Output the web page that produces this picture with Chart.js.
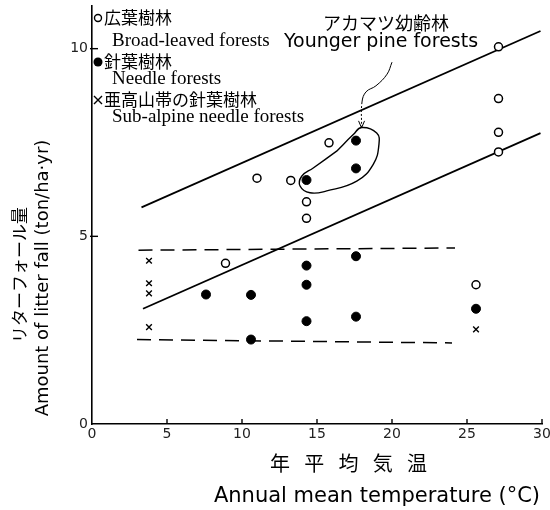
<!DOCTYPE html>
<html>
<head>
<meta charset="utf-8">
<script src="https://cdn.jsdelivr.net/npm/chart.js@4.4.1/dist/chart.umd.min.js"></script>
<style>
  html, body { margin: 0; padding: 0; background: #fff; }
  #wrap { width: 550px; height: 510px; position: relative; }
</style>
</head>
<body>
<div id="wrap"><canvas id="c"></canvas></div>
<script>
// Broad-leaved forests (open circles): annual mean temperature (°C) vs litter fall (ton/ha·yr)
const broadLeavedTemp = [8.9, 11.0, 13.25, 14.3, 14.3, 15.8, 25.6, 27.1, 27.1, 27.1, 27.1];
const broadLeavedFall = [4.28, 6.55, 6.49, 5.92, 5.48, 7.49, 3.71, 10.05, 8.67, 7.77, 7.25];

// Needle forests (filled circles)
const needleTemp = [7.6, 10.6, 10.6, 14.3, 14.3, 14.3, 14.3, 17.6, 17.6, 17.6, 17.6, 25.6];
const needleFall = [3.45, 3.44, 2.25, 6.5, 4.22, 3.71, 2.74, 7.55, 6.81, 4.47, 2.86, 3.07];

// Sub-alpine needle forests (crosses)
const subAlpineTemp = [3.8, 3.8, 3.8, 3.8, 25.6];
const subAlpineFall = [4.35, 3.75, 3.48, 2.58, 2.52];

// Solid envelope lines
const upperBoundTemp = [3.3, 29.9];
const upperBoundFall = [5.77, 10.47];
const lowerBoundTemp = [3.4, 29.9];
const lowerBoundFall = [3.07, 7.75];

// Dashed band for needle forests
const bandTopTemp = [3.1, 24.2];
const bandTopFall = [4.63, 4.69];
const bandBottomTemp = [3.0, 24.0];
const bandBottomFall = [2.25, 2.16];

// Loop enclosing the younger pine forest stands
const loopTemp = [16.31, 17.42, 17.98, 18.98, 19.13, 18.75, 17.65, 15.65, 14.53, 13.87, 13.98, 14.75, 16.31];
const loopFall = [7.27, 7.71, 7.90, 7.75, 7.45, 6.92, 6.47, 6.21, 6.16, 6.34, 6.60, 6.82, 7.27];

// Pointer from the label down to the loop
const pointerTemp = [20.0, 19.67, 18.93, 18.27, 18.0, 17.97];
const pointerFall = [9.64, 9.32, 9.01, 8.85, 8.58, 7.89];

// Axis ticks
const xTicks = [0, 5, 10, 15, 20, 25, 30];
const yTicks = [0, 5, 10];

const zip = (xs, ys) => xs.map((x, i) => ({ x: x, y: ys[i] }));

const lineSet = (xs, ys, extra) => Object.assign({
  data: zip(xs, ys),
  showLine: true,
  pointRadius: 0,
  borderColor: '#000',
  borderWidth: 1.8,
  fill: false
}, extra || {});

const decorations = {
  id: 'decorations',
  afterDatasetsDraw(chart) {
    const { ctx, chartArea: ca, scales: { x, y } } = chart;
    ctx.save();
    ctx.strokeStyle = '#000';
    ctx.lineWidth = 1.4;
    // inward tick marks
    xTicks.forEach(v => {
      if (v === 0) return;
      const px = x.getPixelForValue(v);
      ctx.beginPath(); ctx.moveTo(px, ca.bottom); ctx.lineTo(px, ca.bottom - 5); ctx.stroke();
    });
    yTicks.forEach(v => {
      if (v === 0) return;
      const py = y.getPixelForValue(v);
      ctx.beginPath(); ctx.moveTo(ca.left - 2, py); ctx.lineTo(ca.left + 6, py); ctx.stroke();
    });
    // arrow head at the end of the pointer
    const n = pointerTemp.length - 1;
    const ax = x.getPixelForValue(pointerTemp[n]);
    const ay = y.getPixelForValue(pointerFall[n]);
    ctx.lineWidth = 1;
    ctx.beginPath();
    ctx.moveTo(ax - 3, ay - 7); ctx.lineTo(ax, ay); ctx.lineTo(ax + 3, ay - 7);
    ctx.stroke();
    ctx.restore();
  },
  afterDraw(chart) {
    const { ctx, chartArea: ca } = chart;
    ctx.save();
    ctx.fillStyle = '#000';
    ctx.strokeStyle = '#000';
    ctx.textBaseline = 'middle';
    ctx.textAlign = 'left';

    // key, top-left
    const mx = ca.left + 6;
    ctx.lineWidth = 1.4;
    ctx.beginPath(); ctx.arc(mx, 18, 3.5, 0, Math.PI * 2); ctx.stroke();
    ctx.beginPath(); ctx.arc(mx, 62, 4.5, 0, Math.PI * 2); ctx.fill();
    ctx.beginPath();
    ctx.moveTo(mx - 4, 96); ctx.lineTo(mx + 4, 104);
    ctx.moveTo(mx + 4, 96); ctx.lineTo(mx - 4, 104);
    ctx.stroke();

    ctx.font = '17px "Noto Sans CJK JP"';
    ctx.fillText('広葉樹林', mx + 6, 18);
    ctx.fillText('針葉樹林', mx + 6, 62);
    ctx.fillText('亜高山帯の針葉樹林', mx + 6, 100);
    ctx.font = '19px "Liberation Serif"';
    ctx.fillText('Broad-leaved forests', ca.left + 20, 41);
    ctx.fillText('Needle forests', ca.left + 20, 79);
    ctx.fillText('Sub-alpine needle forests', ca.left + 20, 117);

    // label for the younger pine stands
    ctx.textAlign = 'center';
    ctx.font = '18px "Noto Sans CJK JP"';
    ctx.fillText('アカマツ幼齢林', 386, 23);
    ctx.font = '19px "DejaVu Sans"';
    ctx.fillText('Younger pine forests', 381, 42);

    // x axis title
    ctx.font = '20px "Noto Sans CJK JP"';
    '年平均気温'.split('').forEach((ch, i) => ctx.fillText(ch, 280 + i * 34.25, 463));
    ctx.font = '21px "DejaVu Sans"';
    ctx.fillText('Annual mean temperature (°C)', 377, 497);

    // y axis title
    ctx.save();
    ctx.translate(20, 275);
    ctx.rotate(-Math.PI / 2);
    ctx.font = '17px "Noto Sans CJK JP"';
    ctx.fillText('リターフォール量', 0, 0);
    ctx.restore();
    ctx.save();
    ctx.translate(43, 278);
    ctx.rotate(-Math.PI / 2);
    ctx.font = '18px "DejaVu Sans"';
    ctx.fillText('Amount of litter fall (ton/ha·yr)', 0, 0);
    ctx.restore();

    ctx.restore();
  }
};

const pointerLast = pointerTemp.length - 1;

new Chart(document.getElementById('c'), {
  type: 'scatter',
  data: {
    datasets: [
      {
        label: 'Sub-alpine needle forests',
        data: zip(subAlpineTemp, subAlpineFall),
        pointStyle: 'crossRot', pointRadius: 4, borderColor: '#000', borderWidth: 1.4
      },
      {
        label: 'Needle forests',
        data: zip(needleTemp, needleFall),
        pointStyle: 'circle', pointRadius: 4.5, backgroundColor: '#000', borderColor: '#000', borderWidth: 1
      },
      {
        label: 'Broad-leaved forests',
        data: zip(broadLeavedTemp, broadLeavedFall),
        pointStyle: 'circle', pointRadius: 4, backgroundColor: '#fff', borderColor: '#000', borderWidth: 1.5
      },
      lineSet(loopTemp, loopFall, { label: 'loop', tension: 0.45, borderWidth: 1.4 }),
      lineSet(pointerTemp, pointerFall, {
        label: 'pointer', tension: 0.4, borderWidth: 1,
        segment: { borderDash: c => (c.p1DataIndex === pointerLast ? [2, 2] : undefined) }
      }),
      lineSet(upperBoundTemp, upperBoundFall, { label: 'upper' }),
      lineSet(lowerBoundTemp, lowerBoundFall, { label: 'lower' }),
      lineSet(bandTopTemp, bandTopFall, { label: 'band top', borderDash: [14, 8], borderWidth: 1.5 }),
      lineSet(bandBottomTemp, bandBottomFall, { label: 'band bottom', borderDash: [14, 8], borderWidth: 1.5 })
    ]
  },
  options: {
    responsive: true,
    maintainAspectRatio: false,
    animation: false,
    layout: { padding: { top: 5, right: 8, left: 0, bottom: 0 } },
    plugins: { legend: { display: false }, tooltip: { enabled: false } },
    scales: {
      x: {
        type: 'linear', min: 0, max: 30,
        afterBuildTicks: s => { s.ticks = xTicks.map(v => ({ value: v })); },
        afterFit: s => { s.height = 86; s.paddingLeft = 0; s.paddingRight = 0; },
        grid: { display: false, drawTicks: false },
        border: { display: true, color: '#000', width: 1.6 },
        ticks: { font: { family: 'DejaVu Sans', size: 14 }, color: '#222', padding: 2, maxRotation: 0 }
      },
      y: {
        type: 'linear', min: 0, max: 11.15,
        afterBuildTicks: s => { s.ticks = yTicks.map(v => ({ value: v })); },
        afterFit: s => { s.width = 92; s.paddingTop = 0; s.paddingBottom = 0; },
        grid: { display: false, drawTicks: false },
        border: { display: true, color: '#000', width: 1.6 },
        ticks: { font: { family: 'DejaVu Sans', size: 14 }, color: '#222', padding: 4 }
      }
    }
  },
  plugins: [decorations]
});
</script>
</body>
</html>
